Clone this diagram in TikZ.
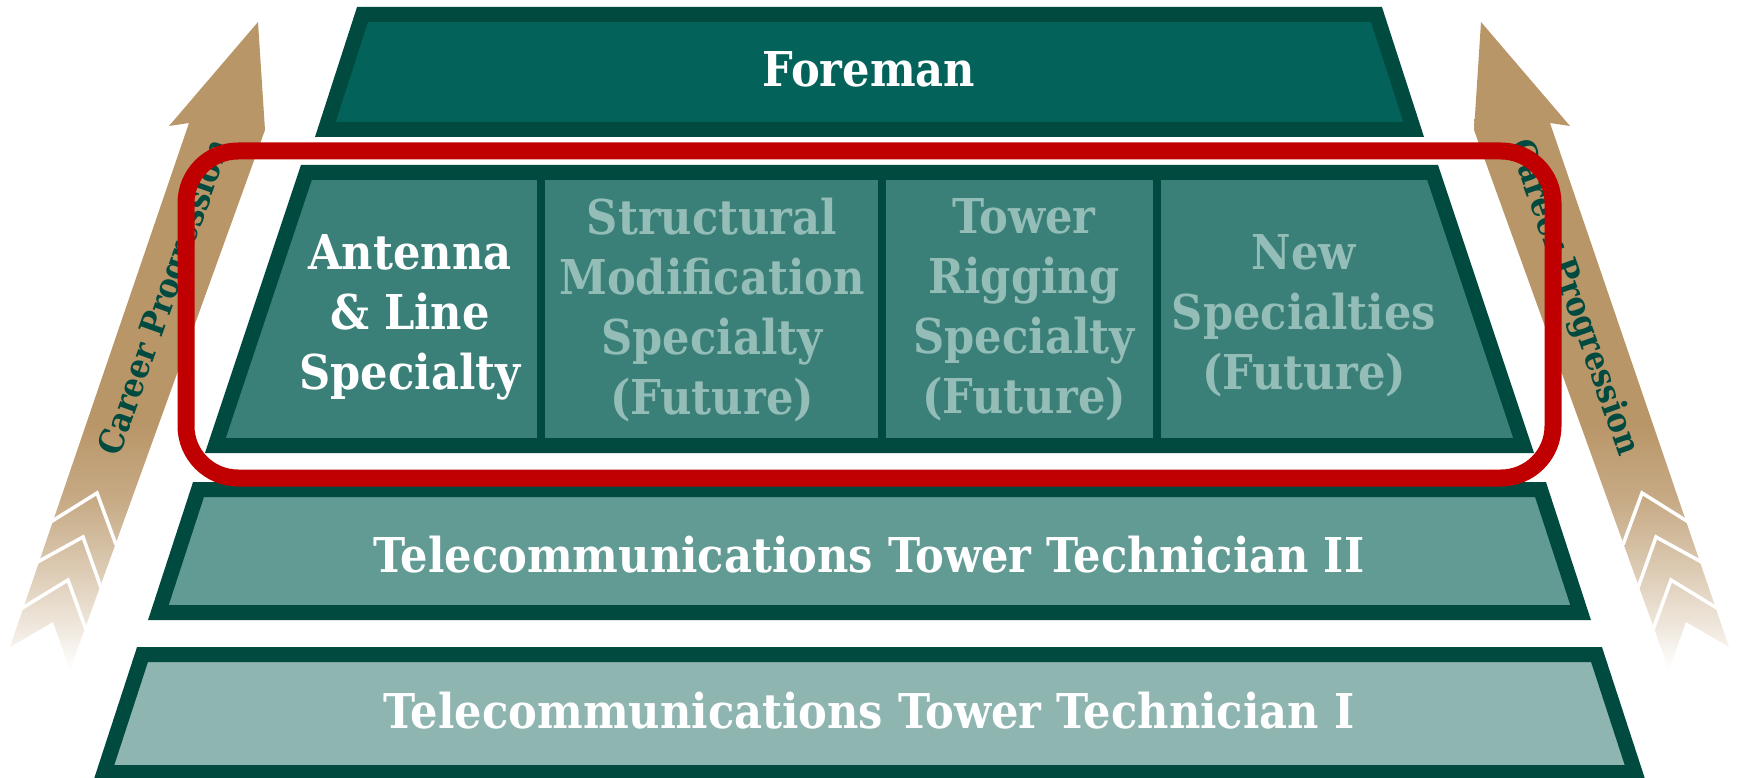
\documentclass[tikz,border=0pt]{standalone}
\usepackage{fontspec}
\newfontfamily\slab{DejaVu Serif}[FakeStretch=0.9]

\definecolor{bandedge}{HTML}{004A3F}
\definecolor{foremanfill}{HTML}{03625A}
\definecolor{specfill}{HTML}{3A8079}
\definecolor{techtwofill}{HTML}{629A94}
\definecolor{techonefill}{HTML}{8FB5B1}
\definecolor{futuretext}{HTML}{93BDB6}
\definecolor{careertan}{HTML}{B99668}
\definecolor{boxred}{HTML}{C00000}

\pgfdeclareverticalshading{careerfade}{100bp}{color(0bp)=(white); color(25bp)=(white);
  color(28bp)=(careertan!20!white); color(32.7bp)=(careertan!50!white);
  color(38bp)=(careertan!80!white); color(44bp)=(careertan); color(100bp)=(careertan)}

\begin{document}
\begin{tikzpicture}[
    x=1pt, y=-1pt,
    band/.style={draw=bandedge, line width=15pt, line join=miter},
    title/.style={font=\slab\bfseries\fontsize{48}{60}\selectfont, text=white, anchor=base, inner sep=0pt},
    cell/.style={font=\slab\bfseries\fontsize{48}{60}\selectfont, align=center, inner sep=0pt},
    future/.style={cell, text=futuretext},
    career/.style={font=\slab\bfseries\fontsize{34}{36}\selectfont, text=bandedge, inner sep=0pt},
    chevron/.style={draw=white, line width=3.5pt, line join=miter},
    redbox/.style={draw=boxred, line width=17pt, rounded corners=52pt}
  ]
    \useasboundingbox (0,0) rectangle (1739,778);

    % career arrows, left one and its mirror
    \foreach \flip/\dx in {1/0, -1/1739} {
      \begin{scope}[shift={(\dx,0)}, xscale=\flip]
        \shade[shading=careerfade] (258,22) -- (265,130) -- (70,670) -- (53,622) -- (10,647)
          -- (189,123) -- (169,126) -- cycle;
        \draw[chevron] (50,522.4) -- (97,493) -- (116,544.7);
        \draw[chevron] (35,563.4) -- (83,537) -- (101,587.7);
        \draw[chevron] (20,609.4) -- (68,580) -- (86,629.7);
      \end{scope}
    }
    \node[career, rotate=70.5] (careerL) at (166,298) {Career Progression};
    \node[career, rotate=-70.5] (careerR) at (1573,298) {Career Progression};

    % bands
    \filldraw[band, fill=foremanfill] (362.5,14.5) -- (1376.5,14.5) -- (1413.7,129.5) -- (325.3,129.5) -- cycle;
    \filldraw[band, fill=specfill] (306.4,172.5) -- (1432.6,172.5) -- (1523.6,445.5) -- (215.4,445.5) -- cycle;
    \foreach \x in {541,882,1157}
      \draw[bandedge, line width=8pt] (\x,172.5) -- (\x,445.5);
    \filldraw[band, fill=techtwofill] (198.5,489.5) -- (1540.5,489.5) -- (1580.6,612.5) -- (158.4,612.5) -- cycle;
    \filldraw[band, fill=techonefill] (142.5,654.5) -- (1596.5,654.5) -- (1635,772.5) -- (104,772.5) -- cycle;

    \node[title] (foreman) at (869,87) {Foreman};
    \node[cell, text=white] (antenna) at (410,317) {Antenna\\\& Line\\Specialty};
    \node[future] (structural) at (712,310) {Structural\\Modification\\Specialty\\(Future)};
    \node[future] (rigging) at (1024,310) {Tower\\Rigging\\Specialty\\(Future)};
    \node[future] (newspec) at (1304,316) {New\\Specialties\\(Future)};
    \node[title] (tech2) at (869,572) {Telecommunications Tower Technician II};
    \node[title] (tech1) at (869,728) {Telecommunications Tower Technician I};

    % highlight
    \draw[redbox] (186,151) rectangle (1553,478);
  \end{tikzpicture}
\end{document}
